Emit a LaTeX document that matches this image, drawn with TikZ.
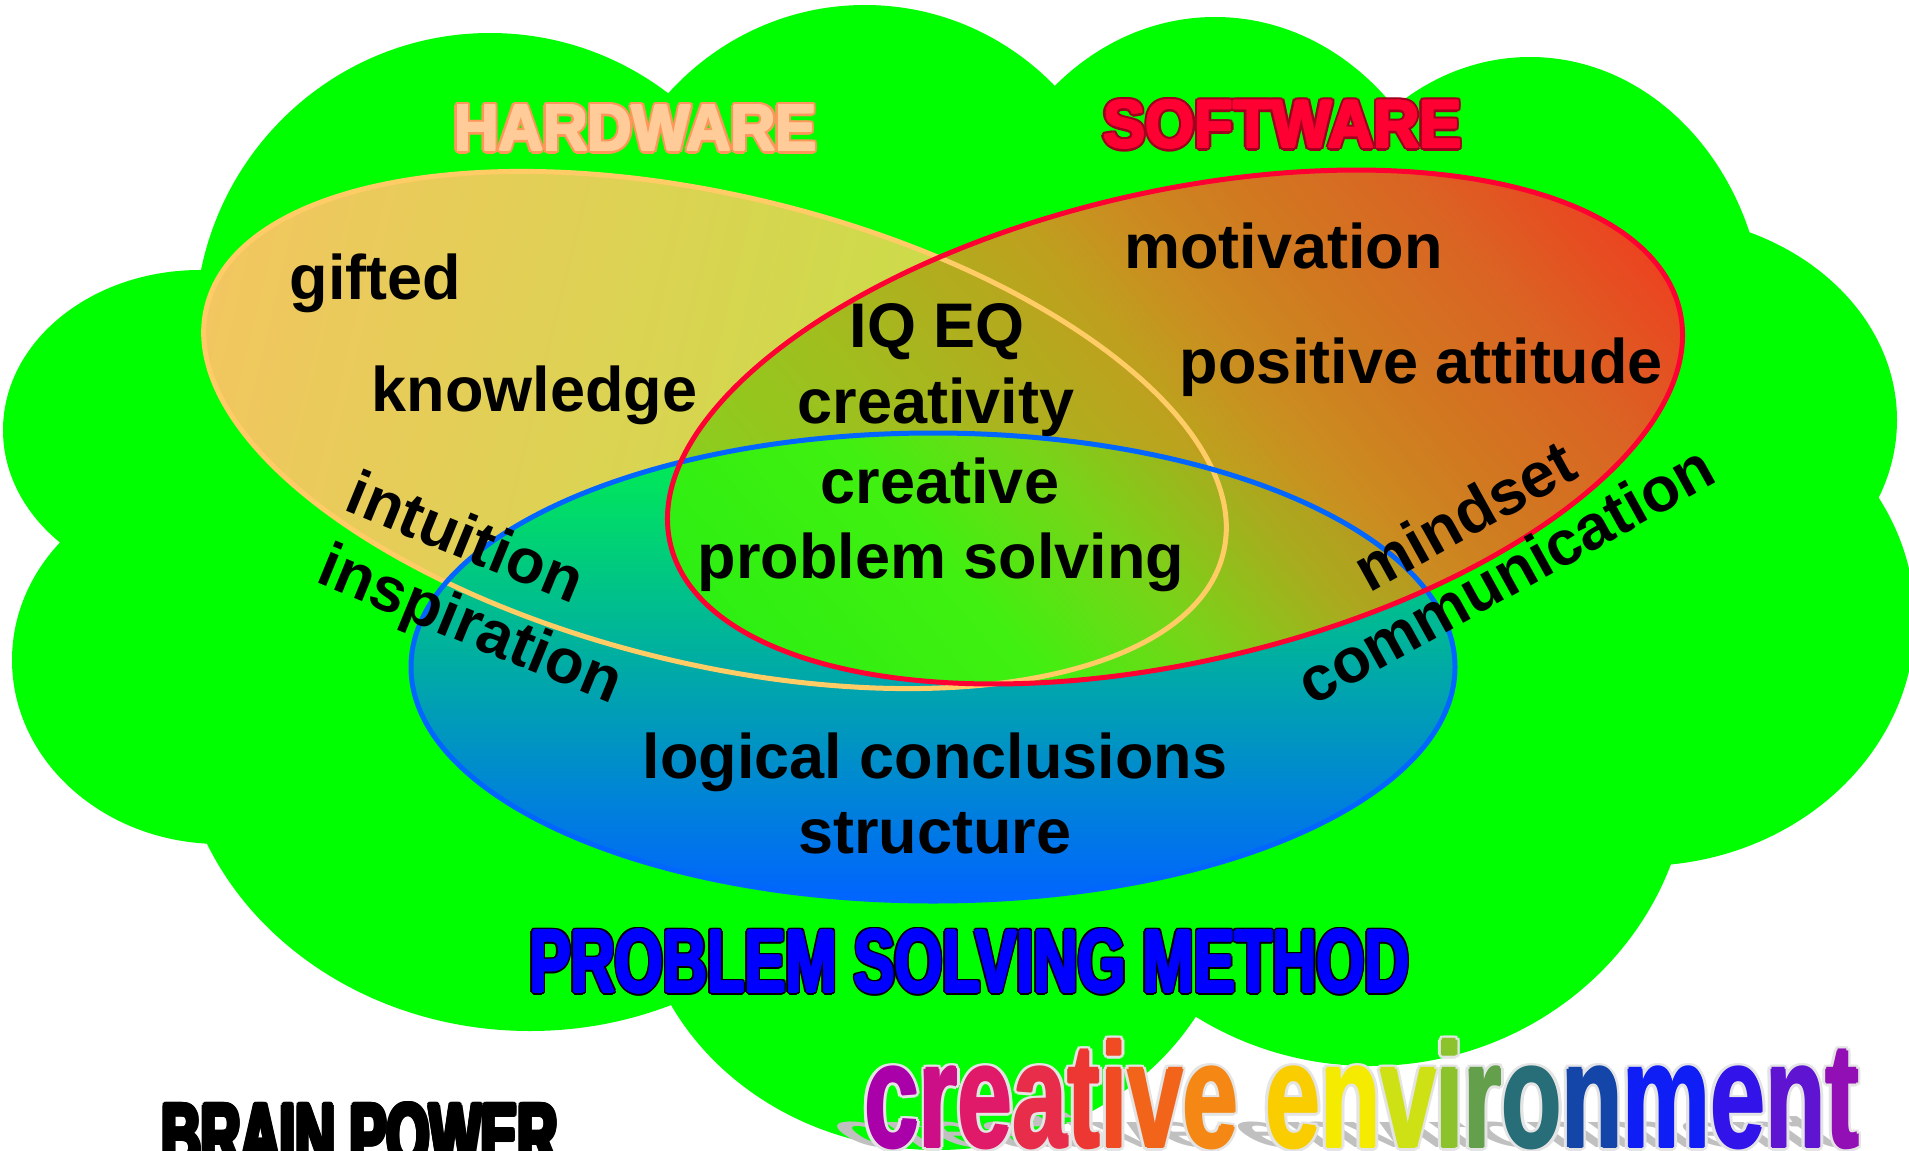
\documentclass[tikz,border=0pt]{standalone}
\usepackage{fontspec}
\setmainfont{Liberation Sans}
\usepackage{graphicx}
\usetikzlibrary{calc}

\definecolor{cloudgreen}{RGB}{0,255,0}
\definecolor{hL}{RGB}{242,198,96}
\definecolor{hR}{RGB}{185,230,62}
\definecolor{bT}{RGB}{0,242,76}
\definecolor{bM}{RGB}{0,195,165}
\definecolor{bB}{RGB}{0,100,255}
\definecolor{hline}{RGB}{255,204,102}
\definecolor{bline}{RGB}{0,102,255}
\definecolor{sline}{RGB}{255,0,51}
\definecolor{sa1}{RGB}{125,212,30}
\definecolor{sa2}{RGB}{140,205,30}
\definecolor{sa3}{RGB}{160,190,30}
\definecolor{sa4}{RGB}{190,160,30}
\definecolor{sa5}{RGB}{203,140,32}
\definecolor{sa6}{RGB}{208,122,32}
\definecolor{sa7}{RGB}{218,100,35}
\definecolor{sa8}{RGB}{236,66,32}
\definecolor{sa9}{RGB}{242,52,35}
\definecolor{sb1}{RGB}{35,238,20}
\definecolor{sb2}{RGB}{64,240,16}
\definecolor{sb3}{RGB}{120,212,24}
\definecolor{sb4}{RGB}{170,170,30}
\definecolor{sb5}{RGB}{195,140,32}
\definecolor{sb6}{RGB}{215,110,32}
\definecolor{hwfill}{RGB}{255,204,153}
\definecolor{hwline}{RGB}{255,150,90}
\definecolor{swfill}{RGB}{255,0,51}
\definecolor{swline}{RGB}{160,0,30}
\definecolor{psmfill}{RGB}{0,0,255}
\definecolor{shadowgray}{RGB}{192,192,192}
\definecolor{ceoutline}{RGB}{228,228,228}
\definecolor{ce1}{RGB}{170,0,170}
\definecolor{ce2}{RGB}{205,15,135}
\definecolor{ce3}{RGB}{225,25,105}
\definecolor{ce4}{RGB}{232,45,75}
\definecolor{ce5}{RGB}{236,55,50}
\definecolor{ce6}{RGB}{240,75,35}
\definecolor{ce7}{RGB}{242,100,25}
\definecolor{ce8}{RGB}{245,135,20}
\definecolor{ce9}{RGB}{250,205,0}
\definecolor{ce10}{RGB}{245,235,0}
\definecolor{ce11}{RGB}{205,225,20}
\definecolor{ce12}{RGB}{140,195,45}
\definecolor{ce13}{RGB}{100,160,75}
\definecolor{ce14}{RGB}{40,110,120}
\definecolor{ce15}{RGB}{20,70,170}
\definecolor{ce16}{RGB}{15,30,245}
\definecolor{ce17}{RGB}{50,20,235}
\definecolor{ce18}{RGB}{95,20,210}
\definecolor{ce19}{RGB}{145,15,180}

\pgfdeclarehorizontalshading{sA}{100bp}{color(0bp)=(sa1); color(25bp)=(sa1); color(34bp)=(sa2); color(41bp)=(sa3); color(50.5bp)=(sa4); color(54bp)=(sa5); color(58bp)=(sa6); color(64bp)=(sa7); color(70bp)=(sa8); color(75bp)=(sa9); color(100bp)=(sa9)}
\pgfdeclarehorizontalshading{sB}{100bp}{color(0bp)=(sb1); color(25bp)=(sb1); color(39bp)=(sb2); color(45bp)=(sb3); color(50.5bp)=(sb4); color(56bp)=(sb5); color(75bp)=(sb6); color(100bp)=(sb6)}

\newif\ifcecol
\newcommand\ce[2]{\ifcecol\textcolor{#1}{#2}\else#2\fi}
\newcommand\cetext{\ce{ce1}{c}\ce{ce2}{r}\ce{ce3}{e}\ce{ce4}{a}\ce{ce5}{t}\ce{ce6}{i}\ce{ce7}{v}\ce{ce8}{e} \ce{ce9}{e}\ce{ce10}{n}\ce{ce11}{v}\ce{ce12}{i}\ce{ce13}{r}\ce{ce14}{o}\ce{ce15}{n}\ce{ce16}{m}\ce{ce17}{e}\ce{ce18}{n}\ce{ce19}{t}}
\newcommand\cebox{\scalebox{0.668}[1]{\fontsize{148}{148}\selectfont\bfseries\cetext}}

% name, position, width, height, fill colour, line colour, outline offset, thickening offset, text
\newcommand{\otext}[9]{%
  \foreach \ang [count=\k] in {0,30,...,330}{%
    \node[anchor=base, inner sep=0pt, text=#6] (#1-o\k) at ($(#2)+(\ang:#7)$) {\resizebox{#3}{#4}{\bfseries #9}};
  }%
  \foreach \ang [count=\k] in {0,45,...,315}{%
    \node[anchor=base, inner sep=0pt, text=#5] (#1-f\k) at ($(#2)+(\ang:#8)$) {\resizebox{#3}{#4}{\bfseries #9}};
  }%
  \node[anchor=base, inner sep=0pt, text=#5] (#1) at (#2) {\resizebox{#3}{#4}{\bfseries #9}};
}

\tikzset{lbl/.style={anchor=base, inner sep=0pt, text=black, font=\fontsize{63}{63}\selectfont\bfseries},
  ringline/.style={line width=5pt}}

\begin{document}
\begin{tikzpicture}[x=1pt,y=-1pt]
\useasboundingbox (0,0) rectangle (1909,1151);
\clip (0,0) rectangle (1909,1151);
\fill[white] (0,0) rectangle (1909,1151);

% cloud
\foreach \cx/\cy/\rx/\ry in {490/330/295/297, 200/430/197/160, 220/660/208/184, 530/720/352/311,
  937/880/300/270, 1370/760/320/306, 1640/620/275/246, 1650/420/247/205, 1530/330/235/273,
  1215/300/245/283, 865/280/268/275}
  \fill[cloudgreen] (\cx,\cy) ellipse [x radius=\rx pt, y radius=\ry pt];
\fill[cloudgreen] (490,330) -- (865,280) -- (1215,300) -- (1530,330) -- (1650,420) -- (1640,620)
  -- (1370,760) -- (937,880) -- (530,720) -- (220,660) -- (200,430) -- cycle;

% hardware fill
\begin{scope}[transform canvas={rotate around={-13.6:(715,430)}}]
  \shade[left color=hL, right color=hR] (715,430) ellipse [x radius=523pt, y radius=234pt];
\end{scope}

% problem solving method fill
\shade[top color=bT, middle color=bM, bottom color=bB] (933,667) ellipse [x radius=522pt, y radius=234pt];

% software fill
\begin{scope}
  \clip[rotate around={13:(1175,427)}] (1175,427) ellipse [x radius=518pt, y radius=235pt];
  \begin{scope}[transform canvas={rotate around={40:(1175,427)}}]
    \shade[shading=sA] (575,-173) rectangle (1775,1027);
  \end{scope}
  \clip (933,667) ellipse [x radius=522pt, y radius=234pt];
  \begin{scope}[transform canvas={rotate around={40:(1175,427)}}]
    \shade[shading=sB] (575,-173) rectangle (1775,1027);
  \end{scope}
\end{scope}

% outlines
\draw[ringline, hline, rotate around={-13.6:(715,430)}] (715,430) ellipse [x radius=523pt, y radius=234pt];
\draw[ringline, bline] (933,667) ellipse [x radius=522pt, y radius=234pt];
\draw[ringline, sline, rotate around={13:(1175,427)}] (1175,427) ellipse [x radius=518pt, y radius=235pt];

% labels
\node[lbl] (gifted) at (375.5,299) {gifted};
\node[lbl] (knowledge) at (534.5,411) {knowledge};
\node[lbl] (iqeq) at (937,347) {IQ EQ};
\node[lbl] (creativity) at (936,423) {creativity};
\node[lbl] (creative) at (940,503) {creative};
\node[lbl] (cps) at (941,578) {problem solving};
\node[lbl] (motivation) at (1283.5,268) {motivation};
\node[lbl] (positive) at (1421.5,383) {positive attitude};
\node[lbl] (logical) at (935,778) {logical conclusions};
\node[lbl] (structure) at (935,853) {structure};
\node[lbl, rotate=-22.3] (intuition) at (457.7,557) {intuition};
\node[lbl, rotate=-22.3] (inspiration) at (463,643) {inspiration};
\node[lbl, rotate=29] (mindset) at (1475,534.6) {mindset};
\node[lbl, rotate=29] (communication) at (1516,594) {communication};

% titles
\otext{hw}{635.5,150.5}{362pt}{45pt}{hwfill}{hwline}{3.5}{1.2}{HARDWARE}
\otext{sw}{1282.5,147.7}{358pt}{47pt}{swfill}{swline}{3.5}{1.2}{SOFTWARE}
\otext{psm}{969.5,992}{879pt}{62pt}{psmfill}{black}{3}{1.3}{PROBLEM SOLVING METHOD}

% creative environment
\node[anchor=base west, inner sep=0pt, text=shadowgray, cm={1,0,-0.45,0.32,(0,0)}] (ceshadow) at (858,1147) {\cecolfalse\cebox};
\foreach \ang [count=\k] in {0,30,...,330}
  \node[anchor=base west, inner sep=0pt, text=ceoutline] (ce-o\k) at ($(864,1147)+(\ang:4)$) {\cecolfalse\cebox};
\foreach \ang [count=\k] in {0,90,180,270}
  \node[anchor=base west, inner sep=0pt] (ce-f\k) at ($(864,1147)+(\ang:1.2)$) {\cecoltrue\cebox};
\node[anchor=base west, inner sep=0pt] (cenv) at (864,1147) {\cecoltrue\cebox};

% brain power
\foreach \ang [count=\k] in {0,30,...,330}
  \node[anchor=base west, inner sep=0pt, text=black] (brain-f\k) at ($(161.5,1166)+(\ang:2.5)$) {\resizebox{396pt}{62pt}{\bfseries BRAIN POWER}};
\node[anchor=base west, inner sep=0pt, text=black] (brain) at (161.5,1166) {\resizebox{396pt}{62pt}{\bfseries BRAIN POWER}};
\end{tikzpicture}
\end{document}
